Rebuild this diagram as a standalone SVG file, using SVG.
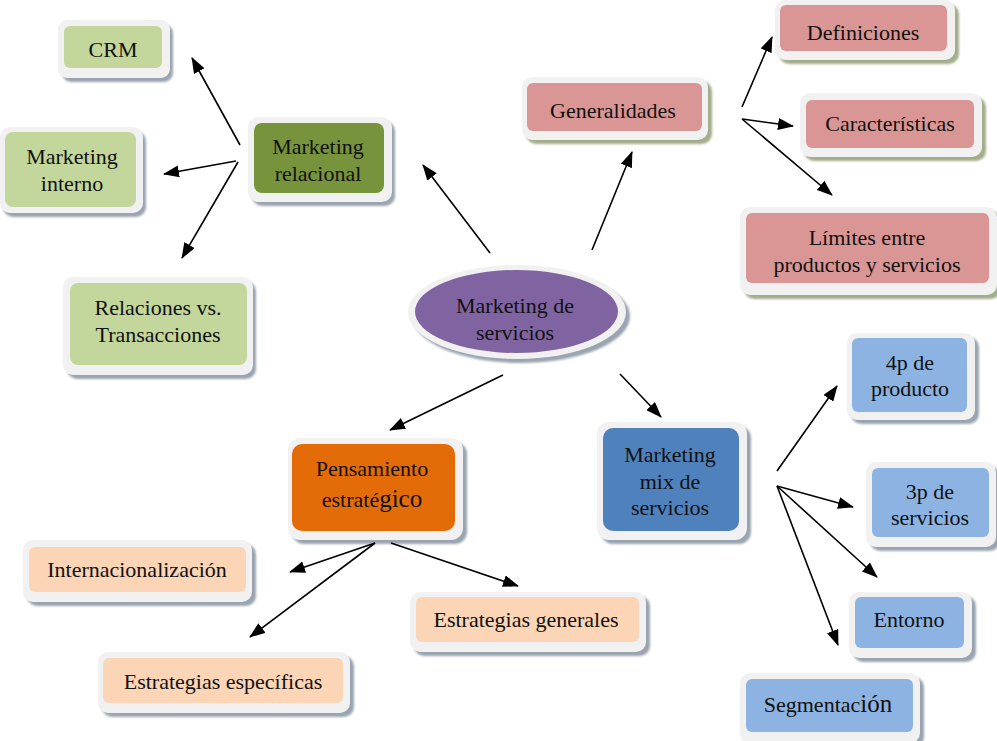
<svg xmlns="http://www.w3.org/2000/svg" width="997" height="741" viewBox="0 0 997 741">
<defs>
<style>
.frame{fill:#f1f1f1}
.sh{fill:#9aa4b0;filter:url(#blur)}
.shp{fill:#a3ad8c;filter:url(#blur)}
.t{font-family:"Liberation Serif","Times New Roman",serif;font-size:22px;fill:#111;text-anchor:middle}
.g1{fill:#c3d69b}.g2{fill:#77933c}.pk{fill:#d99694}.pu{fill:#8064a2}.or{fill:#e36c09}.pe{fill:#fbd5b5}.bl{fill:#4f81bd}.lb{fill:#8db3e2}
.c line{stroke:#000;stroke-width:1.6;marker-end:url(#ah)}
</style>
<filter id="blur" x="-10%" y="-10%" width="120%" height="130%"><feGaussianBlur stdDeviation="1.2"/></filter>
<marker id="ah" markerUnits="userSpaceOnUse" viewBox="0 0 16 12" refX="15" refY="6" markerWidth="16" markerHeight="12" orient="auto"><path d="M0,0 L16,6 L0,12 Z" fill="#000"/></marker>
</defs>
<rect width="997" height="741" fill="#fff"/>

<g id="crm"><rect class="sh" x="62" y="24" width="111" height="58" rx="9"/><rect class="frame" x="58" y="20" width="112" height="58" rx="9"/><rect class="g1" x="64" y="26" width="98" height="42" rx="6"/><text class="t" x="113" y="57">CRM</text></g>
<g id="mrel"><rect class="sh" x="252" y="121" width="143" height="85" rx="10"/><rect class="frame" x="248" y="117" width="144" height="85" rx="10"/><rect class="g2" x="254" y="123" width="130" height="70" rx="8"/><text class="t" x="318" y="154">Marketing</text><text class="t" x="318" y="181">relacional</text></g>
<g id="mint"><rect class="sh" x="3" y="131" width="143" height="86" rx="10"/><rect class="frame" x="0" y="127" width="143" height="86" rx="10"/><rect class="g1" x="5" y="132" width="131" height="75" rx="8"/><text class="t" x="72" y="164">Marketing</text><text class="t" x="72" y="191">interno</text></g>
<g id="relv"><rect class="sh" x="67" y="281" width="189" height="98" rx="10"/><rect class="frame" x="63" y="277" width="190" height="98" rx="10"/><rect class="g1" x="70" y="283" width="177" height="82" rx="8"/><text class="t" x="158" y="315">Relaciones vs.</text><text class="t" x="158" y="342">Transacciones</text></g>

<g id="gen"><rect class="shp" x="526" y="81" width="186" height="63" rx="10"/><rect class="frame" x="522" y="77" width="186" height="63" rx="10"/><rect class="pk" x="527" y="83" width="175" height="48" rx="6"/><text class="t" x="613" y="118">Generalidades</text></g>
<g id="def"><rect class="shp" x="779" y="4" width="180" height="60" rx="10"/><rect class="frame" x="775" y="0" width="180" height="60" rx="10"/><rect class="pk" x="780" y="5" width="167" height="46" rx="6"/><text class="t" x="863" y="40">Definiciones</text></g>
<g id="car"><rect class="shp" x="804" y="97" width="182" height="64" rx="10"/><rect class="frame" x="800" y="93" width="182" height="64" rx="10"/><rect class="pk" x="806" y="100" width="168" height="48" rx="6"/><text class="t" x="890" y="131">Características</text></g>
<g id="lim"><rect class="shp" x="744" y="211" width="257" height="88" rx="10"/><rect class="frame" x="740" y="207" width="257" height="88" rx="10"/><rect class="pk" x="746" y="213" width="243" height="70" rx="6"/><text class="t" x="867" y="245">Límites entre</text><text class="t" x="867" y="272">productos y servicios</text></g>

<g id="center"><ellipse cx="521" cy="316" rx="109" ry="47" fill="#9aa4b0" filter="url(#blur)"/><ellipse class="frame" cx="517" cy="312" rx="109" ry="47"/><ellipse class="pu" cx="516.5" cy="311.5" rx="101.5" ry="41.5"/><text class="t" x="515" y="313">Marketing de</text><text class="t" x="515" y="340">servicios</text></g>

<g id="pens"><rect class="sh" x="292" y="442" width="175" height="102" rx="12"/><rect class="frame" x="288" y="438" width="175" height="102" rx="12"/><rect class="or" x="292" y="444" width="163" height="87" rx="10"/><text class="t" x="372" y="476">Pensamiento</text><text class="t" x="372" y="507">estraté<tspan font-size="25px">gico</tspan></text></g>
<g id="intl"><rect class="sh" x="27" y="544" width="229" height="62" rx="10"/><rect class="frame" x="23" y="540" width="229" height="62" rx="10"/><rect class="pe" x="29" y="547" width="217" height="45" rx="6"/><text class="t" x="137" y="577">Internacionalización</text></g>
<g id="espe"><rect class="sh" x="102" y="656" width="252" height="61" rx="10"/><rect class="frame" x="98" y="652" width="252" height="61" rx="10"/><rect class="pe" x="103" y="658" width="240" height="45" rx="6"/><text class="t" x="223" y="689">Estrategias específicas</text></g>
<g id="egen"><rect class="sh" x="414" y="596" width="236" height="60" rx="10"/><rect class="frame" x="410" y="592" width="236" height="60" rx="10"/><rect class="pe" x="416" y="597" width="223" height="45" rx="6"/><text class="t" x="526" y="627">Estrategias generales</text></g>

<g id="mmix"><rect class="sh" x="601" y="426" width="150" height="118" rx="12"/><rect class="frame" x="597" y="422" width="150" height="118" rx="12"/><rect class="bl" x="603" y="428" width="136" height="103" rx="10"/><text class="t" x="670" y="462">Marketing</text><text class="t" x="670" y="489">mix de</text><text class="t" x="670" y="515">servicios</text></g>
<g id="p4"><rect class="sh" x="851" y="337" width="128" height="87" rx="10"/><rect class="frame" x="847" y="333" width="128" height="87" rx="10"/><rect class="lb" x="852" y="338" width="115" height="74" rx="6"/><text class="t" x="910" y="370">4p de</text><text class="t" x="910" y="396">producto</text></g>
<g id="p3"><rect class="sh" x="870" y="466" width="130" height="85" rx="10"/><rect class="frame" x="866" y="462" width="130" height="85" rx="10"/><rect class="lb" x="872" y="468" width="117" height="69" rx="6"/><text class="t" x="930" y="499">3p de</text><text class="t" x="930" y="525">servicios</text></g>
<g id="ento"><rect class="sh" x="853" y="596" width="123" height="66" rx="10"/><rect class="frame" x="849" y="592" width="123" height="66" rx="10"/><rect class="lb" x="855" y="597" width="109" height="51" rx="6"/><text class="t" x="909" y="627">Entorno</text></g>
<g id="segm"><rect class="sh" x="744" y="677" width="180" height="70" rx="10"/><rect class="frame" x="740" y="673" width="180" height="70" rx="10"/><rect class="lb" x="746" y="679" width="167" height="53" rx="6"/><text class="t" x="828" y="712">Segmentac<tspan font-size="25px">ión</tspan></text></g>

<g id="connectors" class="c">
<line x1="490" y1="253" x2="423" y2="165"/>
<line x1="592" y1="250" x2="632" y2="152"/>
<line x1="503" y1="375" x2="390" y2="430"/>
<line x1="620" y1="374" x2="661" y2="417"/>
<line x1="240" y1="145" x2="192" y2="58"/>
<line x1="236" y1="161" x2="164" y2="174"/>
<line x1="238" y1="162" x2="182" y2="258"/>
<line x1="742" y1="107" x2="772" y2="37"/>
<line x1="742" y1="119" x2="793" y2="126"/>
<line x1="742" y1="119" x2="832" y2="195"/>
<line x1="375" y1="543" x2="290" y2="572"/>
<line x1="375" y1="543" x2="250" y2="637"/>
<line x1="391" y1="543" x2="518" y2="586"/>
<line x1="777" y1="471" x2="837" y2="386"/>
<line x1="777" y1="486" x2="853" y2="507"/>
<line x1="777" y1="486" x2="877" y2="577"/>
<line x1="777" y1="486" x2="838" y2="645"/>
</g>
</svg>
